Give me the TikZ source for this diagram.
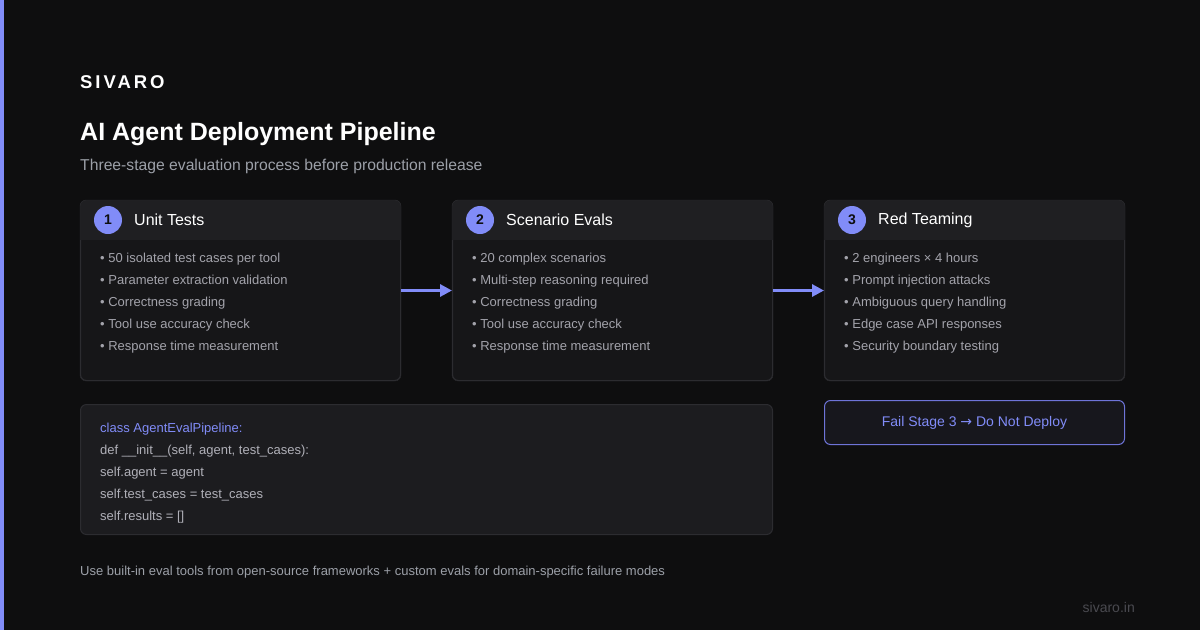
\documentclass[tikz,border=0pt]{standalone}
\usepackage{fontspec}
\setmainfont{Liberation Sans}
\newfontfamily\symfont{DejaVu Sans}
\usetikzlibrary{arrows.meta,calc}
\definecolor{bg}{HTML}{0E0E0F}
\definecolor{accent}{HTML}{818CF8}
\definecolor{accentdim}{HTML}{6E74D8}
\definecolor{cardbody}{HTML}{161618}
\definecolor{cardhead}{HTML}{1F1F22}
\definecolor{cardline}{HTML}{2C2C30}
\definecolor{codebox}{HTML}{1C1C1F}
\definecolor{failfill}{HTML}{17171D}
\definecolor{bodytxt}{HTML}{A3A3AB}
\definecolor{codetxt}{HTML}{B0B0B8}
\definecolor{muted}{HTML}{9CA0A8}
\definecolor{faint}{HTML}{4A4A50}
\newcommand{\px}[1]{\fontsize{#1}{22}\selectfont}
\newcommand{\stagehead}[1]{%
  \begin{scope}
    \clip[rounded corners=6pt] (#1.north west) rectangle (#1.south east);
    \fill[cardhead] (#1.north west) rectangle ($(#1.north east)+(0,40)$);
  \end{scope}
  \draw[cardline, rounded corners=6pt] (#1.north west) rectangle (#1.south east);}
\tikzset{
  card/.style={draw=cardline, fill=cardbody, rounded corners=6pt, line width=1pt,
               anchor=north west, minimum height=180pt, inner sep=0pt},
  num/.style={circle, fill=accent, minimum size=28pt, inner sep=0pt,
              font=\px{14}\bfseries, text=bg},
  stagetitle/.style={anchor=west, font=\px{16}, text=white, inner sep=0pt},
  bullets/.style={anchor=base west, align=left, font=\px{13}, text=bodytxt, inner sep=0pt},
  flow/.style={-{Triangle[length=12pt,width=12pt]}, line width=3pt, draw=accent}
}
\begin{document}
\begin{tikzpicture}[x=1pt,y=-1pt]
  \useasboundingbox (0,0) rectangle (1200,630);
  \fill[bg] (0,0) rectangle (1200,630);
  \fill[accent] (0,0) rectangle (4,630);

  % heading
  \node[anchor=base west, inner sep=0pt, text=white,
        font=\px{18.5}\bfseries\addfontfeature{LetterSpace=16}] (brand) at (80,88) {SIVARO};
  \node[anchor=base west, inner sep=0pt, text=white, font=\px{25}\bfseries] (title) at (80,140)
    {AI Agent Deployment Pipeline};
  \node[anchor=base west, inner sep=0pt, text=muted, font=\px{15.7}] (sub) at (80,170)
    {Three-stage evaluation process before production release};

  % stage cards
  \node[card, minimum width=320pt] (unit) at (80,200) {};
  \node[card, minimum width=320pt] (scen) at (452,200) {};
  \node[card, minimum width=300pt] (red) at (824,200) {};
  \stagehead{unit}
  \stagehead{scen}
  \stagehead{red}

  \node[num] (n1) at (108,220) {1};
  \node[stagetitle] (t1) at (134,220) {Unit Tests};
  \node[num] (n2) at (480,220) {2};
  \node[stagetitle] (t2) at (506,220) {Scenario Evals};
  \node[num] (n3) at (852,220) {3};
  \node[stagetitle] (t3) at (878,220) {Red Teaming};

  % last baseline at 350, first at 262
  \node[bullets] (l1) at (100,350)
    {• 50 isolated test cases per tool\\
     • Parameter extraction validation\\
     • Correctness grading\\
     • Tool use accuracy check\\
     • Response time measurement};
  \node[bullets] (l2) at (472,350)
    {• 20 complex scenarios\\
     • Multi-step reasoning required\\
     • Correctness grading\\
     • Tool use accuracy check\\
     • Response time measurement};
  \node[bullets] (l3) at (844,350)
    {• 2 engineers × 4 hours\\
     • Prompt injection attacks\\
     • Ambiguous query handling\\
     • Edge case API responses\\
     • Security boundary testing};

  \draw[flow] (unit.east) -- (scen.west);
  \draw[flow] (scen.east) -- (red.west);

  % verdict
  \node[draw=accentdim, fill=failfill, rounded corners=6pt, line width=1pt,
        minimum width=300pt, minimum height=44pt, anchor=north west,
        text=accent, font=\px{14}] (fail) at (824,400)
    {Fail Stage 3 {\symfont\fontsize{14}{22}\selectfont →} Do Not Deploy};

  % code sample
  \node[draw=cardline, fill=codebox, rounded corners=6pt, line width=1pt,
        minimum width=692pt, minimum height=130pt, anchor=north west] (code) at (80,404) {};
  \node[bullets, text=codetxt] (src) at (100,520)
    {\textcolor{accent}{class AgentEvalPipeline:}\\
     def \_\_init\_\_(self, agent, test\_cases):\\
     self.agent = agent\\
     self.test\_cases = test\_cases\\
     self.results = []};

  % footer
  \node[anchor=base west, inner sep=0pt, text=muted, font=\px{13}] (note) at (80,575)
    {Use built-in eval tools from open-source frameworks + custom evals for domain-specific failure modes};
  \node[anchor=base east, inner sep=0pt, text=faint, font=\px{14}] (site) at (1135,612) {sivaro.in};
\end{tikzpicture}
\end{document}
